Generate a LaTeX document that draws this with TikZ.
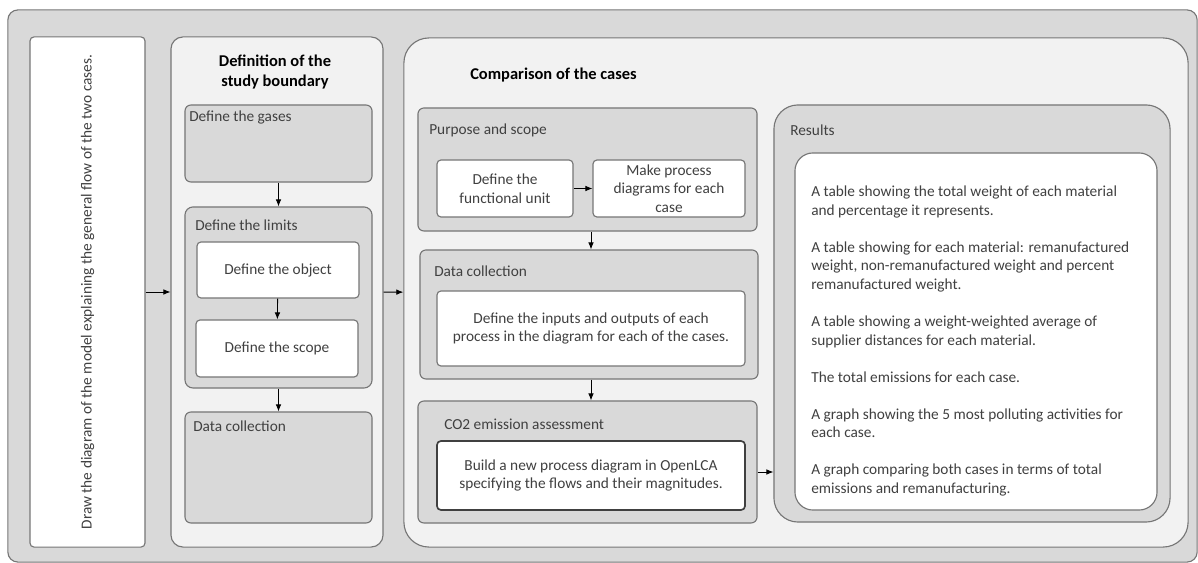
\documentclass[tikz,border=0pt]{standalone}
\usepackage{fontspec}
\setmainfont{Carlito}
\usetikzlibrary{positioning,arrows.meta}
\definecolor{boxline}{HTML}{767676}
\definecolor{darkfill}{HTML}{D9D9D9}
\definecolor{lightfill}{HTML}{F2F2F2}
\definecolor{txt}{HTML}{404040}

\begin{document}
\begin{tikzpicture}[x=0.025cm, y=-0.025cm, font=\fontsize{10.9}{13.2}\selectfont,
		outer/.style = {draw=boxline, fill=darkfill, line width=0.8pt, rounded corners=0.25cm, inner sep=0pt},
		panel/.style = {draw=boxline, fill=lightfill, line width=0.8pt, inner sep=0pt},
		group/.style = {draw=boxline, fill=darkfill, line width=0.8pt, rounded corners=0.15cm, inner sep=0pt},
		task/.style = {draw=boxline, fill=white, line width=0.8pt, rounded corners=0.1cm, align=center, text=txt, inner sep=0pt},
		label/.style = {anchor=west, text=txt, inner sep=0pt},
		title/.style = {font=\fontsize{11.7}{14.5}\selectfont\bfseries, align=center, inner sep=0pt},
		flow/.style = {-{Latex[length=5pt,width=4pt]}, black, line width=0.6pt}]
	
	\useasboundingbox (0,0) rectangle (1198,563);
	
	% frame and the three columns
	\node[outer, minimum width=29.725cm, minimum height=13.8cm] (frame) at (602.5,286) {};
	\node[task, minimum width=2.875cm, minimum height=12.75cm] (drawbox) at (87.5,292) {};
	\node[rotate=90, text=txt] (drawtext) at (drawbox) {Draw the diagram of the model explaining the general flow of the two cases.};
	\node[panel, rounded corners=0.3cm, minimum width=5.3cm, minimum height=12.75cm] (defn) at (277,292) {};
	\node[panel, rounded corners=0.625cm, minimum width=19.6cm, minimum height=12.725cm] (comp) at (796,292.5) {};
	
	% definition of the study boundary
	\node[title] (defntitle) at (275,72) {Definition of the\\study boundary};
	\node[group, minimum width=4.675cm, minimum height=1.925cm] (gases) at (278.5,143.5) {};
	\node[label] (gaseslabel) at (189,118) {Define the gases};
	\node[group, rounded corners=0.2cm, minimum width=4.675cm, minimum height=4.525cm] (limits) at (278.5,297.5) {};
	\node[label] (limitslabel) at (195,225) {Define the limits};
	\node[task, minimum width=4.05cm, minimum height=1.4cm] (object) at (278,270) {Define the object};
	\node[task, minimum width=4.05cm, minimum height=1.425cm] (scope) at (277,348.5) {Define the scope};
	\node[group, minimum width=4.675cm, minimum height=2.775cm] (datab) at (278.5,467.5) {};
	\node[label] (datablabel) at (193,426) {Data collection};
	
	% comparison of the cases
	\node[title, anchor=west] (comptitle) at (470,75) {Comparison of the cases};
	\node[group, minimum width=8.475cm, minimum height=3.075cm] (purpose) at (587.5,169.5) {};
	\node[label] (purposelabel) at (429,130) {Purpose and scope};
	\node[task, minimum width=3.4cm, minimum height=1.425cm] (unit) at (505,188.5) {Define the\\functional unit};
	\node[task, minimum width=3.8cm, minimum height=1.425cm] (process) at (669,188.5) {Make process\\diagrams for each\\case};
	\node[group, minimum width=8.45cm, minimum height=3.225cm] (datac) at (589,314.5) {};
	\node[label] (dataclabel) at (434,271) {Data collection};
	\node[task, minimum width=7.7cm, minimum height=1.875cm] (inout) at (591,328.5) {Define the inputs and outputs of each\\process in the diagram for each of the cases.};
	\node[group, minimum width=8.475cm, minimum height=3.05cm] (co2) at (587.5,462) {};
	\node[label] (co2label) at (444,424) {CO2 emission assessment};
	\node[task, draw=txt, line width=1.2pt, minimum width=7.7cm, minimum height=1.725cm] (openlca) at (591,475.5) {Build a new process diagram in OpenLCA\\specifying the flows and their magnitudes.};
	
	% results
	\node[group, rounded corners=0.6cm, minimum width=9.9cm, minimum height=10.425cm] (results) at (972,313.5) {};
	\node[label] (resultslabel) at (790,130) {Results};
	\node[task, rounded corners=0.45cm, minimum width=9.05cm, minimum height=8.925cm] (outputs) at (976,331.5) {};
	\node[label, align=left] (outputstext) at (811,341) {A table showing the total weight of each material\\and percentage it represents.\\[13.2pt]
		A table showing for each material: remanufactured\\weight, non-remanufactured weight and percent\\remanufactured weight.\\[13.2pt]
		A table showing a weight-weighted average of\\supplier distances for each material.\\[13.2pt]
		The total emissions for each case.\\[13.2pt]
		A graph showing the 5 most polluting activities for\\each case.\\[13.2pt]
		A graph comparing both cases in terms of total\\emissions and remanufacturing.};
	
	% connectors
	\draw[flow] (drawbox) -- (defn);
	\draw[flow] (defn) -- (comp);
	\draw[flow] (gases) -- (limits);
	\draw[flow] (object) -- (scope);
	\draw[flow] (limits) -- (datab);
	\draw[flow] (unit) -- (process);
	\draw[flow] (purpose.south -| inout.north) -- (inout.north |- datac.north);
	\draw[flow] (datac.south -| inout.north) -- (inout.north |- co2.north);
	\draw[flow] ([yshift=-0.25cm]co2.east) -- ([yshift=-0.25cm]co2.east -| results.west);
	
\end{tikzpicture}
\end{document}
